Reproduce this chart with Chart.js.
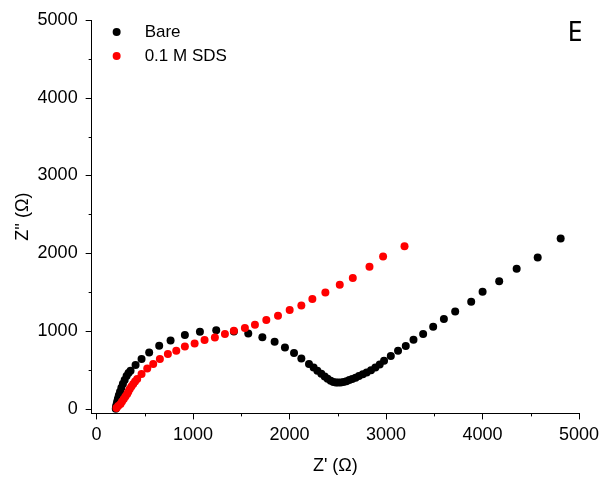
<!DOCTYPE html>
<html>
<head>
<meta charset="utf-8">
<script src="https://cdn.jsdelivr.net/npm/chart.js@4.4.1/dist/chart.umd.min.js"></script>
<style>
  html, body { margin: 0; padding: 0; background: #fff; }
  #wrap { width: 604px; height: 480px; }
</style>
</head>
<body>
<div id="wrap"><canvas id="nyquist"></canvas></div>
<script>
// Impedance data (Z' and Z'' in ohm)
const bareZre = [200, 203, 208, 214, 222, 232, 244, 258, 274, 292, 312, 332, 353, 405, 467, 546, 650, 768, 916, 1072,
    1241, 1424, 1573, 1719, 1846, 1953, 2047, 2123, 2202, 2250, 2289, 2330, 2365, 2395, 2427, 2455, 2480, 2503, 2530, 2560,
    2590, 2620, 2650, 2685, 2720, 2760, 2800, 2845, 2890, 2935, 2980, 3050, 3125, 3205, 3285, 3385, 3489, 3600, 3717, 3883,
    4001, 4173, 4354, 4572, 4810];
const bareZim = [0, 25, 55, 90, 130, 175, 220, 270, 320, 370, 420, 460, 490, 561, 639, 724, 810, 878, 947, 990,
    1011, 994, 968, 920, 861, 788, 716, 647, 574, 530, 488, 450, 415, 385, 360, 345, 338, 336, 338, 345,
    355, 368, 383, 400, 420, 443, 467, 495, 530, 570, 617, 677, 745, 806, 887, 960, 1054, 1153, 1251, 1375,
    1504, 1641, 1800, 1945, 2189];

const sdsZre = [207, 225, 249, 265, 283, 300, 318, 330, 345, 362, 381, 400, 422, 467, 526, 588, 657, 740, 827, 916,
    1017, 1120, 1227, 1331, 1424, 1538, 1642, 1760, 1881, 2002, 2123, 2237, 2372, 2521, 2656, 2829, 2970, 3192];
const sdsZim = [9, 35, 60, 92, 125, 157, 189, 220, 253, 285, 317, 350, 382, 446, 518, 574, 639, 703, 745, 801,
    840, 883, 917, 960, 1003, 1037, 1080, 1140, 1195, 1269, 1328, 1410, 1495, 1594, 1680, 1825, 1958, 2091];

const seriesNames = ['Bare', '0.1 M SDS'];
const majorTicks = [0, 1000, 2000, 3000, 4000, 5000];
const minorTicks = [500, 1500, 2500, 3500, 4500];
const panelLetter = 'E';

const FONT = 'Arial, "Liberation Sans", sans-serif';

function toPoints(xs, ys) {
    return xs.map((x, i) => ({ x: x, y: ys[i] }));
}

// Draws outward tick marks, the inside legend and the panel letter
const decorPlugin = {
    id: 'decor',
    afterDraw(chart) {
        const ctx = chart.ctx;
        const xs = chart.scales.x;
        const ys = chart.scales.y;
        const area = chart.chartArea;
        ctx.save();
        ctx.strokeStyle = '#000';
        ctx.lineWidth = 1;
        ctx.beginPath();
        majorTicks.forEach(v => {
            const px = Math.round(xs.getPixelForValue(v)) + 0.5;
            ctx.moveTo(px, area.bottom);
            ctx.lineTo(px, area.bottom + 6);
            const py = Math.round(ys.getPixelForValue(v)) + 0.5;
            ctx.moveTo(area.left, py);
            ctx.lineTo(area.left - 6, py);
        });
        minorTicks.forEach(v => {
            const px = Math.round(xs.getPixelForValue(v)) + 0.5;
            ctx.moveTo(px, area.bottom);
            ctx.lineTo(px, area.bottom + 3);
            const py = Math.round(ys.getPixelForValue(v)) + 0.5;
            ctx.moveTo(area.left, py);
            ctx.lineTo(area.left - 3, py);
        });
        ctx.stroke();

        // legend
        ctx.font = '17px ' + FONT;
        ctx.textBaseline = 'middle';
        chart.data.datasets.forEach((ds, i) => {
            const cy = ys.getPixelForValue(5000) + 12 + i * 24;
            ctx.fillStyle = ds.backgroundColor;
            ctx.beginPath();
            ctx.arc(area.left + 25, cy, 4, 0, Math.PI * 2);
            ctx.fill();
            ctx.fillStyle = '#000';
            ctx.fillText(ds.label, area.left + 53, cy);
        });

        ctx.font = '27px "Noto Sans", ' + FONT;
        ctx.textAlign = 'center';
        ctx.fillText(panelLetter, 575, 33);
        ctx.restore();
    }
};

const ctx = document.getElementById('nyquist').getContext('2d');
new Chart(ctx, {
    type: 'scatter',
    data: {
        datasets: [{
            label: seriesNames[0],
            data: toPoints(bareZre, bareZim),
            backgroundColor: '#000000',
            borderColor: '#000000',
            pointRadius: 4,
            pointBorderWidth: 0,
            order: 1
        }, {
            label: seriesNames[1],
            data: toPoints(sdsZre, sdsZim),
            backgroundColor: '#ff0000',
            borderColor: '#ff0000',
            pointRadius: 4,
            pointBorderWidth: 0,
            order: 0
        }]
    },
    options: {
        responsive: true,
        maintainAspectRatio: false,
        animation: false,
        layout: { padding: 0 },
        plugins: {
            legend: { display: false },
            tooltip: { enabled: false }
        },
        scales: {
            x: {
                type: 'linear',
                min: -50,
                max: 5000,
                afterBuildTicks: axis => { axis.ticks = majorTicks.map(v => ({ value: v })); },
                afterFit: axis => { axis.paddingRight = 25; },
                grid: { display: true, drawOnChartArea: false, drawTicks: false },
                border: { display: true, color: '#000', width: 1 },
                ticks: { color: '#000', font: { family: FONT, size: 18, lineHeight: 1 }, padding: 13, maxRotation: 0,
                    callback: v => String(v) },
                title: { display: true, text: "Z' (Ω)", color: '#000', font: { family: FONT, size: 18 }, padding: { top: -2, bottom: 3 } }
            },
            y: {
                type: 'linear',
                min: -60,
                max: 5000,
                afterBuildTicks: axis => { axis.ticks = majorTicks.map(v => ({ value: v })); },
                afterFit: axis => { axis.paddingTop = 20; },
                grid: { display: true, drawOnChartArea: false, drawTicks: false },
                border: { display: true, color: '#000', width: 1 },
                ticks: { color: '#000', font: { family: FONT, size: 18 }, padding: 14,
                    callback: v => String(v) },
                title: { display: true, text: "Z'' (Ω)", color: '#000', font: { family: FONT, size: 18 }, padding: { top: 12, bottom: -10 } }
            }
        }
    },
    plugins: [decorPlugin]
});
</script>
</body>
</html>
